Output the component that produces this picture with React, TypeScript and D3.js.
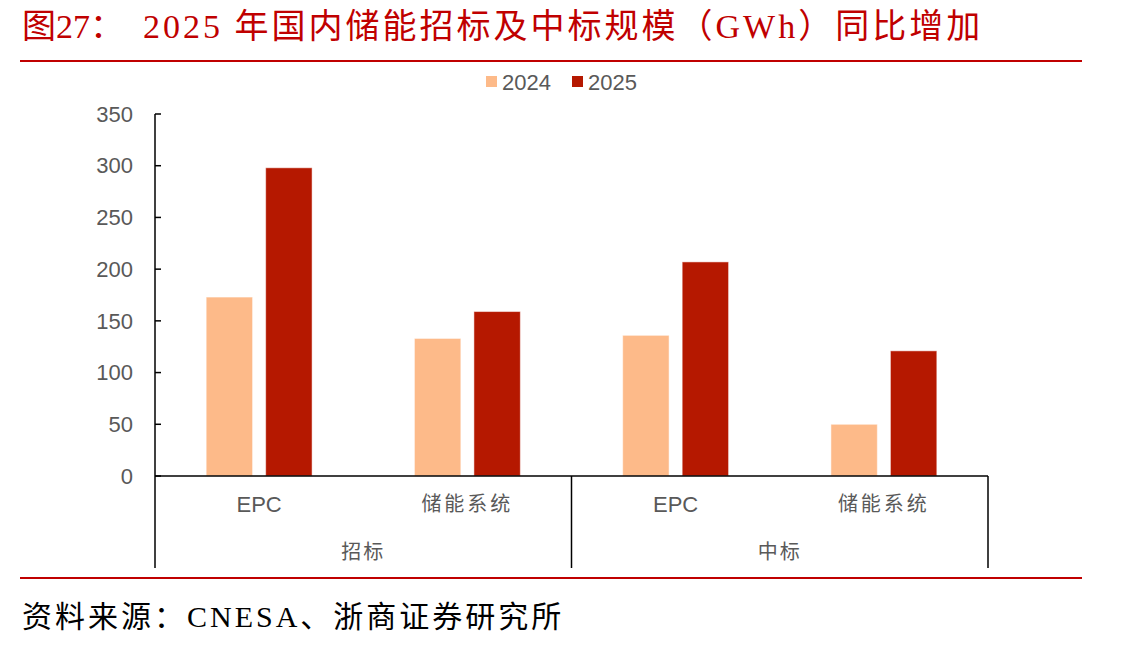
import React from 'react';
import * as d3 from 'd3';

// bidding / winning scale, GWh
const categories = ['EPC', '储能系统', 'EPC', '储能系统'];
const groups = ['招标', '中标'];
const seriesNames = ['2024', '2025'];
const values2024 = [173, 133, 136, 50];
const values2025 = [298, 159, 207, 121];
const yTicks = [0, 50, 100, 150, 200, 250, 300, 350];

const W = 1140;
const H = 648;
const left = 155;
const right = 988;
const top = 114;
const bottom = 476;

const colors = ['#FDBA89', '#B51800'];
const red = '#C00000';
const gray = '#595959';
const sans = "'Liberation Sans', Arial, 'Noto Sans CJK SC', sans-serif";
const serif = "'Liberation Serif', 'Times New Roman', 'Noto Sans CJK SC', serif";

const App = () => {
  const x = d3
    .scaleBand<number>()
    .domain(d3.range(categories.length))
    .range([left, right]);

  const inner = d3
    .scaleBand<string>()
    .domain(seriesNames)
    .range([0, x.bandwidth()])
    .paddingInner(0.22)
    .paddingOuter(0.86);

  const y = d3.scaleLinear().domain([0, 350]).range([bottom, top]);

  const series = [values2024, values2025];

  // group boundaries sit at the edges of every second category
  const perGroup = categories.length / groups.length;
  const boundaries = d3.range(groups.length + 1).map((g) =>
    g === groups.length ? right : (x(g * perGroup) as number)
  );

  return (
    <svg
      width={W}
      height={H}
      style={{ position: 'absolute', left: 0, top: 0, background: '#fff' }}
    >
      {/* title */}
      <text x={22} y={38} fill={red} fontFamily={serif} fontSize={34}>
        图27：
      </text>
      <text x={143} y={38} fill={red} fontFamily={serif} fontSize={34} letterSpacing={3}>
        2025 年国内储能招标及中标规模（GWh）同比增加
      </text>
      <line x1={20} x2={1082} y1={61} y2={61} stroke={red} strokeWidth={2} />

      {/* legend */}
      {seriesNames.map((s, i) => (
        <g key={s} transform={`translate(${486 + i * 86},0)`}>
          <rect x={0} y={76} width={11} height={11} fill={colors[i]} />
          <text x={16} y={82} dy="0.35em" fill={gray} fontFamily={sans} fontSize={22}>
            {s}
          </text>
        </g>
      ))}

      {/* y axis */}
      <line x1={left} x2={left} y1={top} y2={bottom} stroke="#000" strokeWidth={1.5} />
      {yTicks.map((t) => (
        <g key={t}>
          <line x1={left} x2={left + 6} y1={y(t)} y2={y(t)} stroke="#000" strokeWidth={1.5} />
          <text
            x={133}
            y={y(t)}
            dy="0.35em"
            textAnchor="end"
            fill={gray}
            fontFamily={sans}
            fontSize={22}
          >
            {t}
          </text>
        </g>
      ))}

      {/* bars */}
      {series.map((vals, si) =>
        vals.map((v, ci) => (
          <rect
            key={`${si}-${ci}`}
            x={(x(ci) as number) + (inner(seriesNames[si]) as number)}
            y={y(v)}
            width={inner.bandwidth()}
            height={bottom - y(v)}
            fill={colors[si]}
            stroke="#fff"
            strokeOpacity={0.5}
            strokeWidth={1}
          />
        ))
      )}

      {/* category axis */}
      <line x1={left} x2={right} y1={bottom} y2={bottom} stroke="#000" strokeWidth={1.5} />
      {boundaries.map((bx, i) => (
        <line key={i} x1={bx} x2={bx} y1={bottom} y2={568} stroke="#000" strokeWidth={1.5} />
      ))}
      {categories.map((c, i) => (
        <text
          key={i}
          x={(x(i) as number) + x.bandwidth() / 2}
          y={504}
          dy="0.35em"
          textAnchor="middle"
          fill={gray}
          fontFamily={sans}
          fontSize={c === 'EPC' ? 22 : 20}
          letterSpacing={c === 'EPC' ? 0 : 3}
        >
          {c}
        </text>
      ))}
      {groups.map((g, i) => (
        <text
          key={g}
          x={(boundaries[i] + boundaries[i + 1]) / 2}
          y={552}
          dy="0.35em"
          textAnchor="middle"
          fill={gray}
          fontFamily={sans}
          fontSize={20}
          letterSpacing={2}
        >
          {g}
        </text>
      ))}

      {/* source */}
      <line x1={20} x2={1082} y1={578} y2={578} stroke={red} strokeWidth={2} />
      <text x={22} y={627} fill="#000" fontFamily={serif} fontSize={30} letterSpacing={3}>
        资料来源：CNESA、浙商证券研究所
      </text>
    </svg>
  );
};

export default App;
